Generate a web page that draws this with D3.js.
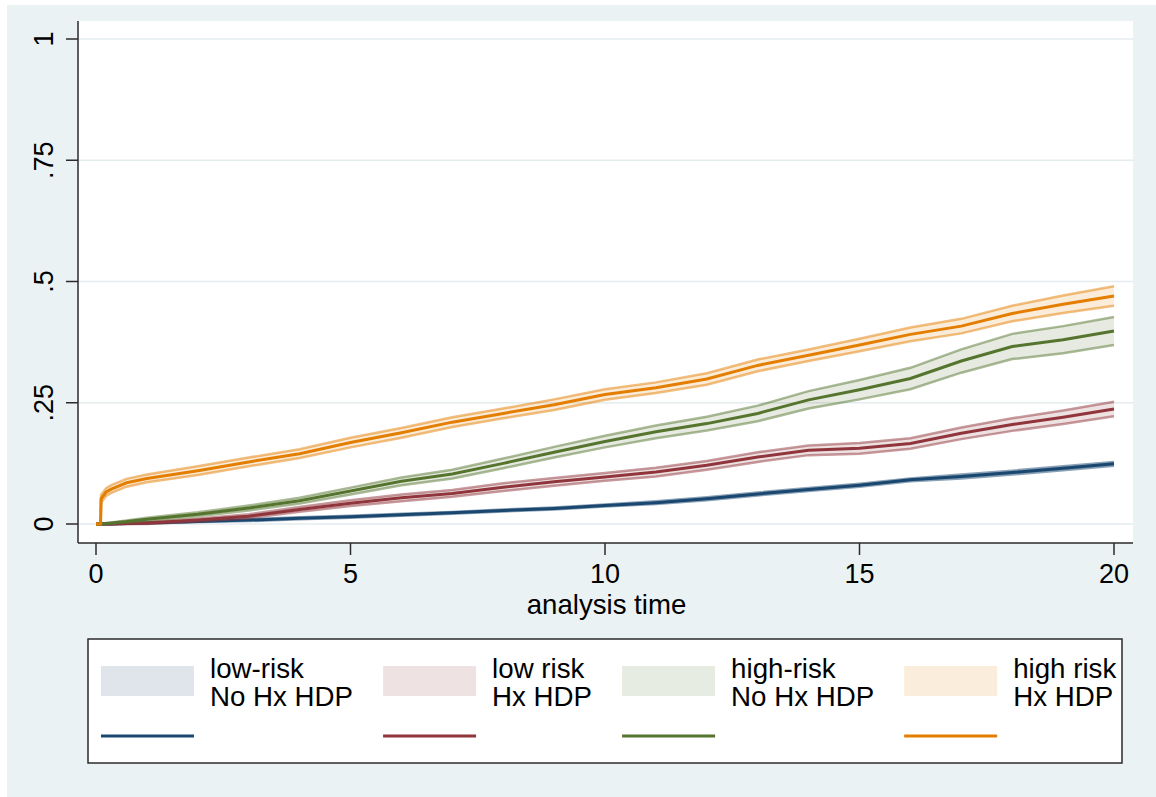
<!DOCTYPE html>
<html>
<head>
<meta charset="utf-8">
<script src="https://cdn.jsdelivr.net/npm/d3@7"></script>
<style>
  body { margin: 0; background: #fff; }
  svg { display: block; font-family: "Liberation Sans", Arial, Helvetica, sans-serif; }
</style>
</head>
<body>
<div id="plot"></div>
<script>
// analysis time (years)
const times = [0, 0.09, 0.1, 0.2, 0.3, 0.6, 1, 2, 3, 4, 5, 6, 7, 8, 9, 10, 11, 12, 13, 14, 15, 16, 17, 18, 19, 20];

// cumulative incidence
const lowNoHx  = [0, 0, 0, 0, 0, 0.001, 0.002, 0.005, 0.008, 0.012, 0.015, 0.019, 0.023, 0.028, 0.032, 0.038, 0.044, 0.052, 0.062, 0.071, 0.080, 0.091, 0.098, 0.106, 0.115, 0.124];
const lowHx    = [0, 0, 0, 0, 0, 0.001, 0.002, 0.008, 0.016, 0.030, 0.043, 0.054, 0.063, 0.076, 0.087, 0.097, 0.107, 0.121, 0.138, 0.152, 0.156, 0.166, 0.187, 0.205, 0.220, 0.237];
const highNoHx = [0, 0, 0, 0.001, 0.002, 0.005, 0.010, 0.020, 0.033, 0.048, 0.068, 0.088, 0.103, 0.125, 0.148, 0.170, 0.190, 0.207, 0.228, 0.256, 0.277, 0.300, 0.336, 0.366, 0.380, 0.398];
const highHx   = [0, 0, 0.052, 0.066, 0.072, 0.085, 0.094, 0.110, 0.128, 0.145, 0.168, 0.188, 0.210, 0.228, 0.246, 0.267, 0.281, 0.299, 0.327, 0.348, 0.369, 0.391, 0.408, 0.434, 0.453, 0.470];

// half width of the 95% band
const lowNoHxCI  = [0, 0, 0, 0, 0, 0.001, 0.001, 0.001, 0.002, 0.002, 0.002, 0.002, 0.002, 0.002, 0.002, 0.002, 0.003, 0.003, 0.003, 0.003, 0.003, 0.003, 0.004, 0.004, 0.004, 0.004];
const lowHxCI    = [0, 0, 0, 0, 0, 0.001, 0.002, 0.003, 0.004, 0.005, 0.006, 0.007, 0.007, 0.008, 0.008, 0.008, 0.009, 0.009, 0.010, 0.010, 0.011, 0.011, 0.012, 0.013, 0.014, 0.015];
const highNoHxCI = [0, 0, 0, 0.001, 0.001, 0.002, 0.003, 0.004, 0.005, 0.006, 0.007, 0.008, 0.009, 0.010, 0.011, 0.012, 0.013, 0.014, 0.016, 0.018, 0.020, 0.022, 0.024, 0.026, 0.028, 0.029];
const highHxCI   = [0, 0, 0.008, 0.008, 0.008, 0.008, 0.008, 0.009, 0.009, 0.009, 0.010, 0.010, 0.010, 0.010, 0.011, 0.011, 0.011, 0.012, 0.012, 0.012, 0.013, 0.014, 0.015, 0.016, 0.018, 0.020];

const labels = [["low-risk", "No Hx HDP"], ["low risk", "Hx HDP"], ["high-risk", "No Hx HDP"], ["high risk", "Hx HDP"]];
const colors = ["#1a476f", "#90353b", "#55752f", "#e37e00"];
const xTicks = [0, 5, 10, 15, 20];
const yTicks = [0, 0.25, 0.5, 0.75, 1];
const yTickLabels = ["0", ".25", ".5", ".75", "1"];

const series = [
  { est: lowNoHx, ci: lowNoHxCI },
  { est: lowHx, ci: lowHxCI },
  { est: highNoHx, ci: highNoHxCI },
  { est: highHx, ci: highHxCI }
];

const W = 1156, H = 797;
const plotL = 78, plotR = 1133, plotT = 21, plotB = 543;

const svg = d3.select("#plot").append("svg")
  .attr("width", W).attr("height", H);

// graph region
svg.append("rect").attr("x", 7).attr("y", 5).attr("width", W - 7).attr("height", H - 5)
  .attr("fill", "#eaf2f3");
svg.append("rect").attr("x", plotL).attr("y", plotT)
  .attr("width", plotR - plotL).attr("height", plotB - plotT).attr("fill", "#fff");

const x = d3.scaleLinear().domain([0, 20]).range([96, 1114]);
const y = d3.scaleLinear().domain([0, 1]).range([524, 39]);

// grid
svg.append("g").selectAll("line").data(yTicks).join("line")
  .attr("x1", plotL).attr("x2", plotR)
  .attr("y1", d => y(d)).attr("y2", d => y(d))
  .attr("stroke", "#e4ecee").attr("stroke-width", 1.5);

// curves
const line = d3.line().x((d, i) => x(times[i])).y(d => y(d));
const area = d3.area().x(d => x(d.t)).y0(d => y(d.lo)).y1(d => y(d.hi));

series.forEach((s, k) => {
  const band = times.map((t, i) => ({ t, lo: Math.max(0, s.est[i] - s.ci[i]), hi: s.est[i] + s.ci[i] }));
  const col = colors[k];
  svg.append("path").attr("d", area(band))
    .attr("fill", col).attr("fill-opacity", 0.15).attr("stroke", "none");
  svg.append("path").attr("d", line(band.map(d => d.lo)))
    .attr("fill", "none").attr("stroke", col).attr("stroke-opacity", 0.5).attr("stroke-width", 2.5);
  svg.append("path").attr("d", line(band.map(d => d.hi)))
    .attr("fill", "none").attr("stroke", col).attr("stroke-opacity", 0.5).attr("stroke-width", 2.5);
  svg.append("path").attr("d", line(s.est))
    .attr("fill", "none").attr("stroke", col).attr("stroke-width", 3);
});

// axes
const axisCol = "#2b2b2b";
svg.append("line").attr("x1", plotL).attr("x2", plotL).attr("y1", plotT).attr("y2", plotB)
  .attr("stroke", axisCol).attr("stroke-width", 1.5);
svg.append("line").attr("x1", plotL).attr("x2", plotR).attr("y1", plotB).attr("y2", plotB)
  .attr("stroke", axisCol).attr("stroke-width", 1.5);

svg.append("g").selectAll("line").data(yTicks).join("line")
  .attr("x1", plotL - 12).attr("x2", plotL)
  .attr("y1", d => y(d)).attr("y2", d => y(d))
  .attr("stroke", axisCol).attr("stroke-width", 1.5);
svg.append("g").selectAll("text").data(yTicks).join("text")
  .attr("transform", d => `translate(53,${y(d)}) rotate(-90)`)
  .attr("text-anchor", "middle").attr("font-size", 27).attr("fill", "#000")
  .text((d, i) => yTickLabels[i]);

svg.append("g").selectAll("line").data(xTicks).join("line")
  .attr("x1", d => x(d)).attr("x2", d => x(d))
  .attr("y1", plotB).attr("y2", plotB + 12)
  .attr("stroke", axisCol).attr("stroke-width", 1.5);
svg.append("g").selectAll("text").data(xTicks).join("text")
  .attr("x", d => x(d)).attr("y", 583)
  .attr("text-anchor", "middle").attr("font-size", 27).attr("fill", "#000")
  .text(d => d);

svg.append("text").attr("x", (plotL + plotR) / 2 + 1).attr("y", 614)
  .attr("text-anchor", "middle").attr("font-size", 27.6).attr("fill", "#000")
  .text("analysis time");

// legend
const leg = svg.append("g");
leg.append("rect").attr("x", 88).attr("y", 639).attr("width", 1034).attr("height", 124)
  .attr("fill", "#fff").attr("stroke", axisCol).attr("stroke-width", 1.5);

let cx = 101;
labels.forEach((lab, k) => {
  const col = colors[k];
  leg.append("rect").attr("x", cx).attr("y", 666).attr("width", 93).attr("height", 30)
    .attr("fill", col).attr("fill-opacity", 0.14);
  leg.append("line").attr("x1", cx).attr("x2", cx + 93).attr("y1", 736).attr("y2", 736)
    .attr("stroke", col).attr("stroke-width", 3);
  const t = leg.append("text").attr("x", cx + 109).attr("font-size", 27.7).attr("fill", "#000");
  t.append("tspan").attr("x", cx + 109).attr("y", 678).text(lab[0]);
  t.append("tspan").attr("x", cx + 109).attr("y", 706).text(lab[1]);
  cx += 109 + t.node().getBBox().width + 30;
});
</script>
</body>
</html>
